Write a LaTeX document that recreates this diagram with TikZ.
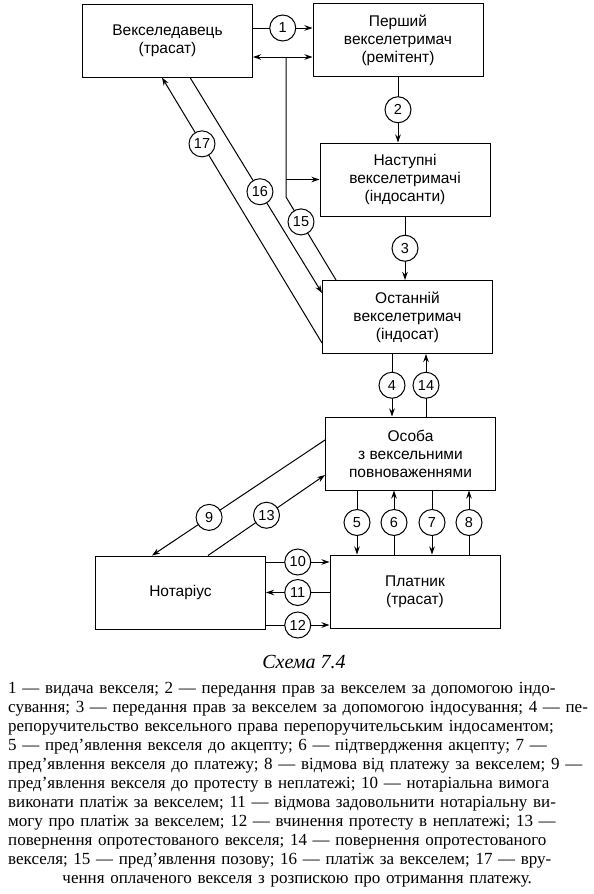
\documentclass[tikz,border=0pt]{standalone}
\usepackage{fontspec}
\setmainfont{Liberation Serif}
\setsansfont{Liberation Sans}
\usetikzlibrary{arrows.meta}
\newcommand{\fullline}[1]{\makebox[578pt][s]{#1}}

\begin{document}
\begin{tikzpicture}[
    x=1pt, y=-1pt,
    box/.style={rectangle, draw, line width=1pt, minimum width=170pt, minimum height=73pt, align=center, font=\sffamily\fontsize{15.5}{18}\selectfont},
    num/.style={circle, draw, fill=white, line width=1pt, minimum size=26pt, inner sep=0pt, font=\sffamily\fontsize{14.5}{14.5}\selectfont},
    arrow/.style={->, line width=1pt, >={Stealth[length=8pt,width=5.5pt]}},
    line/.style={line width=1pt}
]
    \useasboundingbox (0,0) rectangle (594,894);

    \node[box] (drawer) at (167.5,40.5) {Векселедавець\\(трасат)};
    \node[box] (first) at (398,40) {Перший\\векселетримач\\(ремітент)};
    \node[box] (next) at (405,179.5) {Наступні\\векселетримачі\\(індосанти)};
    \node[box] (last) at (407.5,317) {Останній\\векселетримач\\(індосат)};
    \node[box] (agent) at (410.5,453.5) {Особа\\з вексельними\\повноваженнями};
    \node[box] (notary) at (180.5,592.5) {Нотаріус};
    \node[box] (payer) at (415,591.5) {Платник\\(трасат)};

    % upper part
    \draw[arrow] ([yshift=12.5pt]drawer.east) -- node[num] {1} ([yshift=12.5pt]drawer.east -| first.west);
    \draw[arrow, <->] ([yshift=-16.5pt]drawer.east) -- ([yshift=-16.5pt]drawer.east -| first.west);
    \coordinate (top15) at (286,57);
    \coordinate (bend15) at (286,197);
    \draw[line] ([xshift=14pt]last.north west) -- node[num, pos=0.7] {15} (bend15) -- (top15);
    \draw[arrow] (next.west -| bend15) -- (next.west);
    \draw[arrow] (first.south) -- node[num] {2} (first.south |- next.north);
    \draw[arrow] (next.south) -- node[num] {3} (next.south |- last.north);
    \draw[arrow] ([xshift=22.5pt]drawer.south) -- node[num, pos=0.53] {16} ([yshift=24pt]last.west);
    \draw[arrow] ([yshift=-26pt]last.west) -- node[num, pos=0.75] {17} ([xshift=-5.5pt]drawer.south);

    % lower part
    \draw[arrow] ([xshift=-15.5pt]last.south) -- node[num] {4} ([xshift=-15.5pt]last.south |- agent.north);
    \draw[arrow] ([xshift=18.5pt]last.south |- agent.north) -- node[num] {14} ([xshift=18.5pt]last.south);
    \foreach \n/\dx/\dir in {5/-53.5/->, 6/-16.5/<-, 7/21.5/->, 8/58.5/<-}
        \draw[arrow, \dir] ([xshift=\dx pt]agent.south) -- node[num] {\n} ([xshift=\dx pt]agent.south |- payer.north);
    \draw[arrow] ([yshift=13.5pt]agent.west) -- node[num, pos=0.67] {9} ([xshift=-28.5pt]notary.north);
    \draw[arrow] ([xshift=27.5pt]notary.north) -- node[num, pos=0.5] {13} ([yshift=-21.5pt]agent.west);
    \draw[arrow] ([yshift=30.5pt]notary.east) -- node[num] {10} ([yshift=30.5pt]notary.east -| payer.west);
    \draw[arrow] (notary.east -| payer.west) -- node[num] {11} (notary.east);
    \draw[arrow] ([yshift=-32.5pt]notary.east) -- node[num] {12} ([yshift=-32.5pt]notary.east -| payer.west);

    % caption
    \node[anchor=base, font=\itshape\fontsize{20}{20}\selectfont] (title) at (304,668) {Схема 7.4};
    \node[anchor=base west, text width=578pt, inner sep=0pt, align=left, font=\fontsize{17}{19}\selectfont] (legend) at (8,693) {%
        \fullline{1 — видача векселя; 2 — передання прав за векселем за допомогою індо-}\\
        \fullline{сування; 3 — передання прав за векселем за допомогою індосування; 4 — пе-}\\
        \fullline{репоручительство вексельного права перепоручительським індосаментом;}\\
        \fullline{5 — пред’явлення векселя до акцепту; 6 — підтвердження акцепту; 7 —}\\
        \fullline{пред’явлення векселя до платежу; 8 — відмова від платежу за векселем; 9 —}\\
        \fullline{пред’явлення векселя до протесту в неплатежі; 10 — нотаріальна вимога}\\
        \fullline{виконати платіж за векселем; 11 — відмова задовольнити нотаріальну ви-}\\
        \fullline{могу про платіж за векселем; 12 — вчинення протесту в неплатежі; 13 —}\\
        \fullline{повернення опротестованого векселя; 14 — повернення опротестованого}\\
        \fullline{векселя; 15 — пред’явлення позову; 16 — платіж за векселем; 17 — вру-}\\
        \makebox[578pt][c]{чення оплаченого векселя з розпискою про отримання платежу.}};
\end{tikzpicture}
\end{document}
